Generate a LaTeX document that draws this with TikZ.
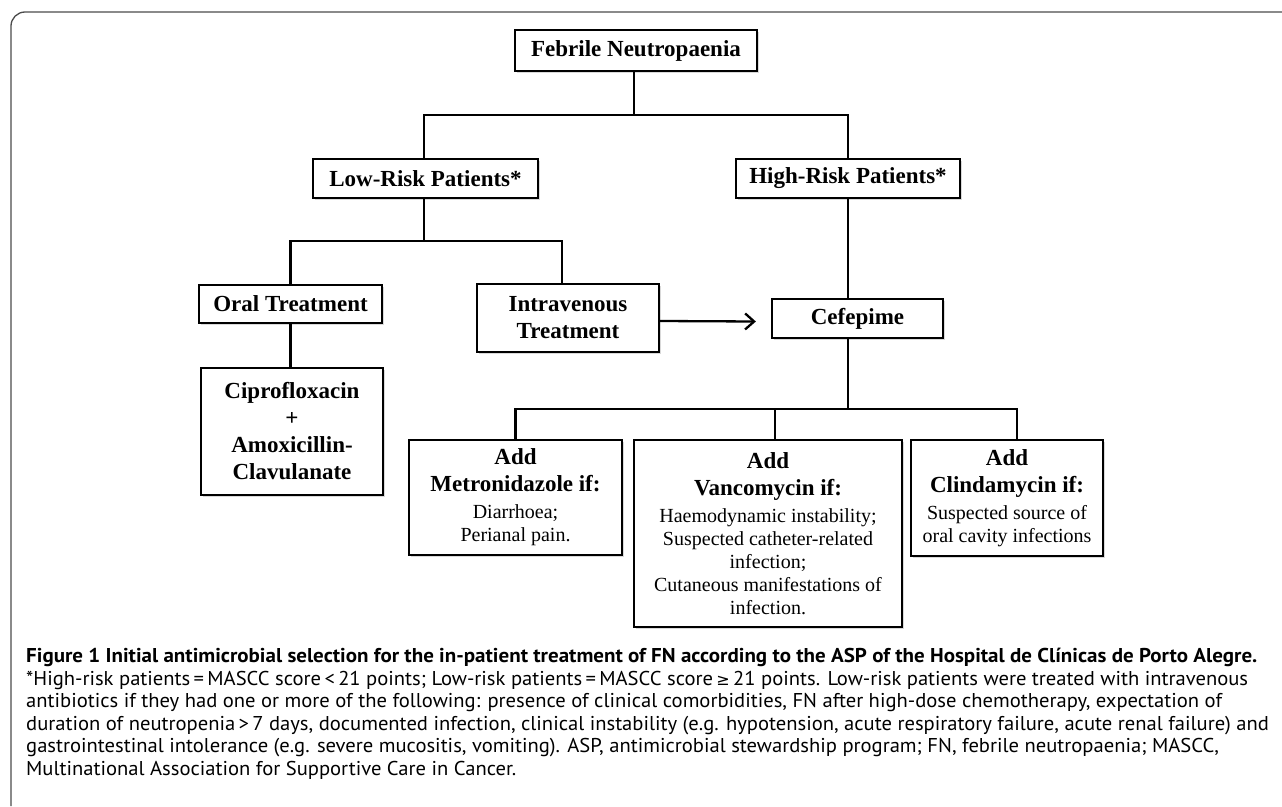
\documentclass[tikz,border=0pt]{standalone}
\usepackage{fontspec}
\setmainfont{Liberation Serif}
\newfontfamily\capfont[FakeStretch=1.03]{PT Sans}
\newfontfamily\capbfont[FakeStretch=1.05]{PT Sans}
\newfontfamily\symfont{DejaVu Sans}
\usetikzlibrary{arrows.meta,shadows}
\newcommand\hdfont{\fontsize{23}{27}\selectfont\bfseries}
\begin{document}
\begin{tikzpicture}[x=1pt,y=-1pt,
  box/.style={draw, line width=2.3pt, fill=white, align=center, inner sep=0pt,
    drop shadow={shadow xshift=1.5pt,shadow yshift=-1.5pt,opacity=0.3}},
  hd/.style={font=\hdfont},
  rg/.style={font=\fontsize{20}{23}\selectfont},
  link/.style={line width=2.3pt},
  arr/.style={line width=2.3pt, -{Straight Barb[length=9pt,width=16pt,line width=2.3pt]}},
  captxt/.style={anchor=base west, inner sep=0pt, font=\capfont\fontsize{20}{22.5}\selectfont},
  captitle/.style={anchor=base west, inner sep=0pt, font=\capbfont\fontsize{20}{22.5}\selectfont\bfseries}
]
\useasboundingbox (0,0) rectangle (1282,806);
\draw[line width=1.3pt, black!70, rounded corners=14pt] (11,806) -- (11,12) -- (1290,12);

% boxes
\node[box, hd, minimum width=242pt, minimum height=41pt] (fn) at (636,50.5) {Febrile Neutropaenia};
\node[box, hd, minimum width=225pt, minimum height=39pt] (low) at (425.5,178.5) {Low-Risk Patients*};
\node[box, hd, minimum width=224pt, minimum height=39pt] (high) at (848,178.5) {High-Risk Patients*};
\node[box, hd, minimum width=183pt, minimum height=38pt] (oral) at (290.5,304) {Oral Treatment};
\node[box, hd, minimum width=182pt, minimum height=68pt] (iv) at (568,318) {Intravenous\\Treatment};
\node[box, hd, minimum width=171pt, minimum height=39pt] (cef) at (857.5,318.5) {Cefepime};
\node[box, hd, minimum width=182pt, minimum height=127pt] (cipro) at (292,431.5) {Ciprofloxacin\\+\\Amoxicillin-\\Clavulanate};
\node[box, rg, minimum width=213pt, minimum height=115pt] (metro) at (515.5,497.5)
  {{\hdfont Add}\\[4pt]{\hdfont Metronidazole if:}\\[4pt]Diarrhoea;\\Perianal pain.};
\node[box, rg, minimum width=268pt, minimum height=187pt] (vanco) at (768,533.5)
  {{\hdfont Add}\\[4pt]{\hdfont Vancomycin if:}\\[4pt]Haemodynamic instability;\\Suspected catheter-related\\infection;\\Cutaneous manifestations of\\infection.};
\node[box, rg, minimum width=192pt, minimum height=116pt] (clinda) at (1007,498)
  {{\hdfont Add}\\[4pt]{\hdfont Clindamycin if:}\\[4pt]Suspected source of\\oral cavity infections};

% connectors
\coordinate (b1) at (634,115);
\draw[link] ([xshift=-2pt]fn.south) -- (b1);
\draw[link] ([xshift=-1.5pt]low.north) |- (b1) -| (high.north);
\coordinate (b2) at (424,241);
\draw[link] ([xshift=-1.5pt]low.south) -- (b2);
\draw[link] (oral.north) |- (b2) -| ([xshift=-6pt]iv.north);
\draw[link] (oral.south) -- (oral.south |- cipro.north);
\draw[link] (high.south) -- (high.south |- cef.north);
\coordinate (b3) at (848,409);
\draw[link] (cef.south -| b3) -- (b3);
\draw[link] (metro.north) |- (b3) -| ([xshift=10pt]clinda.north);
\draw[link] ([xshift=7pt]vanco.north) -- ([xshift=7pt]vanco.north |- b3);
\draw[arr] ([yshift=-3pt]iv.east) -- ([xshift=-15pt,yshift=-3pt]cef.west);

% caption
\node[captitle] (c1) at (26,662) {Figure 1 Initial antimicrobial selection for the in-patient treatment of FN according to the ASP of the Hospital de Clínicas de Porto Alegre.};
\node[captxt] (c2) at (26,685) {*High-risk patients\,=\,MASCC score\,<\,21 points; Low-risk patients\,=\,MASCC score\,{\symfont\fontsize{16}{20}\selectfont ≥}\,21 points. Low-risk patients were treated with intravenous};
\node[captxt] (c3) at (26,707.5) {antibiotics if they had one or more of the following: presence of clinical comorbidities, FN after high-dose chemotherapy, expectation of};
\node[captxt] (c4) at (26,730) {duration of neutropenia\,>\,7 days, documented infection, clinical instability (e.g. hypotension, acute respiratory failure, acute renal failure) and};
\node[captxt] (c5) at (26,752.5) {gastrointestinal intolerance (e.g. severe mucositis, vomiting). ASP, antimicrobial stewardship program; FN, febrile neutropaenia; MASCC,};
\node[captxt] (c6) at (26,775) {Multinational Association for Supportive Care in Cancer.};
\end{tikzpicture}
\end{document}
